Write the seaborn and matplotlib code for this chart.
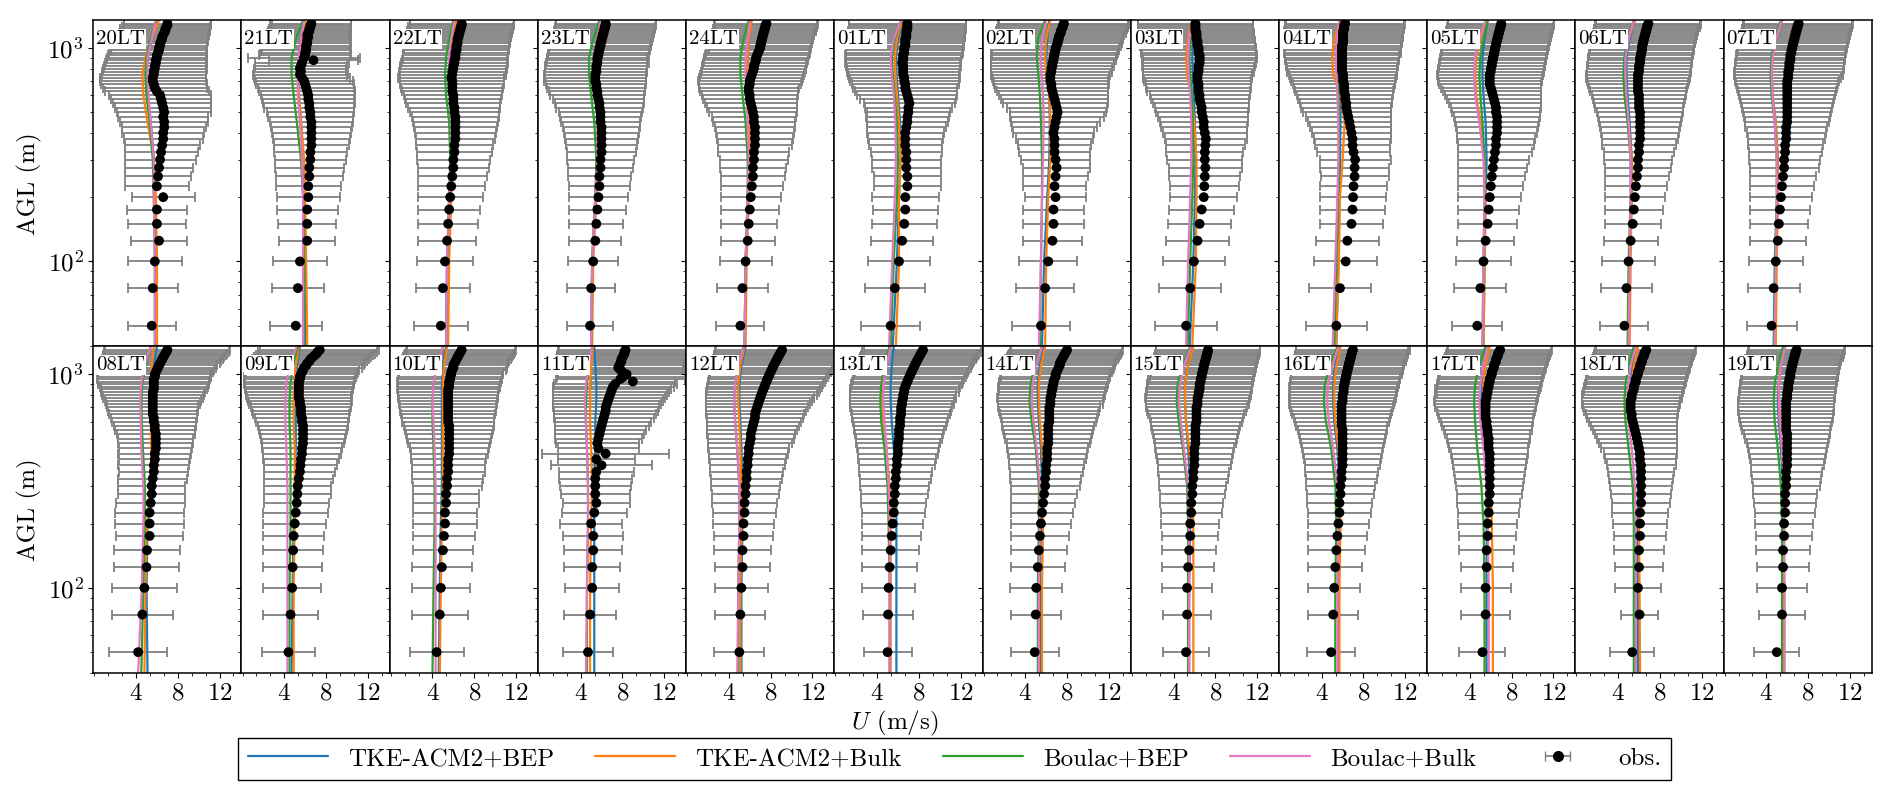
import numpy as np
import pandas as pd
import seaborn as sns
import matplotlib
matplotlib.use('Agg')
from matplotlib import pyplot as plt
from matplotlib.lines import Line2D
from matplotlib.ticker import FixedLocator, MultipleLocator, LogLocator, NullFormatter

"""
数据 (read off the figure)
"""

HOURS = ['20LT', '21LT', '22LT', '23LT', '24LT', '01LT', '02LT', '03LT', '04LT', '05LT', '06LT', '07LT',
         '08LT', '09LT', '10LT', '11LT', '12LT', '13LT', '14LT', '15LT', '16LT', '17LT', '18LT', '19LT']
SCHEMES = ['TKE-ACM2+BEP', 'TKE-ACM2+Bulk', 'Boulac+BEP', 'Boulac+Bulk']
COLORS = ['#1f77b4', '#ff7f0e', '#2ca02c', '#e377c2']

# lidar levels (m)
Z_OBS = [50, 75, 100, 125, 150, 175, 200, 225, 250, 275, 300, 325, 350, 375, 400, 425, 450,
         475, 500, 525, 550, 575, 600, 625, 650, 675, 700, 725, 750, 775, 800, 825, 850, 875,
         900, 925, 950, 975, 1000, 1025, 1050, 1075, 1100, 1125, 1150, 1175, 1200, 1225, 1250,
         1275, 1300]
# model levels (m)
Z_MOD = [40, 100, 200, 300, 450, 600, 750, 900, 1100, 1350]

# ---- observed mean wind speed / std (m/s)
u_20 = [5.5, 5.6, 5.8,
        6.2, 6.0, 6.0, 6.6, 6.0, 6.1, 6.2, 6.3, 6.4, 6.5, 6.6, 6.6, 6.7, 6.7, 6.6, 6.7,
        6.6, 6.5, 6.4, 6.3, 6.0, 5.8, 5.7, 5.6, 5.6, 5.7, 5.7, 5.8, 5.8, 5.9, 5.9, 6.0,
        6.0, 6.1, 6.2, 6.2, 6.3, 6.3, 6.4, 6.5, 6.5, 6.6, 6.7, 6.8, 6.8, 6.9, 7.0, 7.0]
sd_20 = [2.3, 2.4, 2.6,
         2.7, 2.8, 2.9, 3.0, 3.1, 3.2, 3.3, 3.4, 3.5, 3.6, 3.8, 3.9, 4.0, 4.2, 4.3, 4.5,
         4.6, 4.7, 4.8, 4.9, 5.0, 5.0, 5.1, 5.1, 5.1, 5.0, 5.0, 5.0, 4.9, 4.9, 4.8, 4.8,
         4.7, 4.7, 4.6, 4.6, 4.5, 4.5, 4.5, 4.4, 4.4, 4.4, 4.3, 4.3, 4.3, 4.2, 4.2, 4.2]
u_21 = [5.1, 5.3, 5.5,
        6.2, 6.2, 6.2, 6.3, 6.3, 6.4, 6.4, 6.5, 6.5, 6.6, 6.6, 6.6, 6.6, 6.6, 6.5, 6.5,
        6.4, 6.4, 6.3, 6.3, 6.2, 6.1, 6.0, 5.9, 5.7, 5.5, 5.6, 5.5, 5.6, 5.7, 6.8, 5.9,
        6.0, 6.0, 6.1, 6.1, 6.1, 6.2, 6.2, 6.2, 6.3, 6.2, 6.3, 6.4, 6.4, 6.5, 6.5, 6.6]
sd_21 = [2.5, 2.5, 2.6,
         2.7, 2.8, 2.9, 3.0, 3.1, 3.2, 3.3, 3.4, 3.5, 3.6, 3.7, 3.8, 3.9, 4.0, 4.1, 4.2,
         4.3, 4.4, 4.4, 4.5, 4.6, 4.6, 4.7, 4.7, 4.6, 4.5, 4.5, 4.4, 4.4, 4.5, 4.3, 5.4,
         4.4, 4.3, 4.3, 4.2, 4.2, 4.2, 4.1, 4.1, 4.1, 4.0, 4.0, 4.0, 3.9, 3.9, 3.9, 3.8]
u_22 = [4.8, 5.0, 5.2,
        5.4, 5.5, 5.6, 5.7, 5.8, 5.9, 6.0, 6.0, 6.1, 6.1, 6.2, 6.2, 6.2, 6.2, 6.2, 6.1,
        6.1, 6.0, 6.0, 6.0, 5.9, 5.9, 5.9, 5.9, 5.8, 5.9, 5.9, 6.0, 6.0, 6.1, 6.1, 6.2,
        6.2, 6.2, 6.3, 6.3, 6.3, 6.4, 6.4, 6.4, 6.5, 6.5, 6.6, 6.6, 6.7, 6.7, 6.8, 6.8]
sd_22 = [2.6, 2.6, 2.7,
         2.8, 2.9, 3.0, 3.1, 3.2, 3.3, 3.4, 3.5, 3.6, 3.7, 3.8, 3.9, 4.0, 4.1, 4.2, 4.3,
         4.4, 4.5, 4.6, 4.7, 4.8, 4.9, 5.0, 5.0, 5.1, 5.1, 5.1, 5.1, 5.1, 5.1, 5.0, 5.0,
         5.0, 5.0, 5.0, 5.0, 5.0, 5.0, 5.0, 5.0, 5.0, 5.0, 5.0, 5.0, 5.0, 5.0, 5.0, 5.0]
u_23 = [4.9, 5.0, 5.2,
        5.4, 5.5, 5.6, 5.7, 5.8, 5.8, 5.9, 5.9, 6.0, 6.0, 6.0, 6.0, 6.0, 5.9, 5.9, 5.9,
        5.8, 5.8, 5.7, 5.6, 5.6, 5.5, 5.5, 5.4, 5.4, 5.4, 5.5, 5.5, 5.5, 5.6, 5.6, 5.6,
        5.7, 5.7, 5.8, 5.8, 5.9, 5.9, 6.0, 6.0, 6.1, 6.1, 6.2, 6.2, 6.3, 6.3, 6.4, 6.4]
sd_23 = [2.2, 2.3, 2.4,
         2.5, 2.6, 2.7, 2.8, 2.9, 3.0, 3.1, 3.2, 3.3, 3.4, 3.5, 3.6, 3.7, 3.8, 3.9, 4.0,
         4.2, 4.3, 4.4, 4.5, 4.6, 4.7, 4.8, 4.9, 4.9, 4.9, 4.9, 4.9, 4.9, 4.9, 4.8, 4.8,
         4.8, 4.8, 4.8, 4.8, 4.8, 4.8, 4.8, 4.8, 4.8, 4.8, 4.8, 4.8, 4.8, 4.8, 4.8, 4.8]
u_24 = [5.1, 5.3, 5.6,
        5.8, 5.9, 6.0, 6.1, 6.2, 6.3, 6.3, 6.4, 6.4, 6.5, 6.5, 6.5, 6.5, 6.4, 6.4, 6.3,
        6.2, 6.1, 6.0, 6.0, 5.9, 5.9, 6.0, 6.0, 6.1, 6.2, 6.3, 6.4, 6.4, 6.5, 6.6, 6.6,
        6.7, 6.8, 6.9, 7.0, 7.0, 7.1, 7.1, 7.2, 7.2, 7.3, 7.3, 7.4, 7.4, 7.5, 7.5, 7.6]
sd_24 = [2.3, 2.4, 2.5,
         2.6, 2.7, 2.8, 2.9, 3.0, 3.1, 3.2, 3.3, 3.4, 3.5, 3.6, 3.7, 3.8, 3.9, 4.0, 4.2,
         4.3, 4.4, 4.5, 4.6, 4.7, 4.8, 4.9, 5.0, 5.0, 5.0, 5.0, 5.0, 5.0, 5.0, 5.0, 5.0,
         5.0, 5.0, 4.9, 4.9, 4.9, 4.9, 4.9, 4.9, 4.9, 4.9, 4.9, 4.9, 4.9, 4.9, 4.9, 4.9]
u_01 = [5.3, 5.7, 6.1,
        6.4, 6.6, 6.7, 6.7, 6.9, 6.9, 6.8, 6.8, 6.8, 6.7, 6.7, 6.7, 6.8, 6.9, 6.9, 7.0,
        7.0, 7.1, 7.0, 6.9, 6.8, 6.7, 6.7, 6.6, 6.6, 6.5, 6.5, 6.5, 6.5, 6.4, 6.5, 6.5,
        6.5, 6.6, 6.6, 6.6, 6.7, 6.7, 6.7, 6.7, 6.8, 6.8, 6.8, 6.8, 6.9, 6.9, 6.9, 6.9]
sd_01 = [2.8, 2.9, 3.0,
         3.0, 3.1, 3.1, 3.2, 3.2, 3.2, 3.3, 3.3, 3.4, 3.5, 3.6, 3.7, 3.8, 3.9, 4.0, 4.0,
         4.2, 4.4, 4.6, 4.8, 4.9, 5.0, 5.1, 5.2, 5.3, 5.3, 5.4, 5.4, 5.5, 5.5, 5.5, 5.5,
         5.6, 5.6, 5.6, 5.6, 5.6, 5.6, 5.6, 5.6, 5.6, 5.6, 5.6, 5.6, 5.6, 5.6, 5.6, 5.6]
u_02 = [5.5, 5.9, 6.2,
        6.6, 6.7, 6.7, 6.9, 6.8, 6.9, 7.0, 6.9, 6.8, 6.8, 6.8, 6.7, 6.8, 6.9, 7.0, 7.1,
        7.0, 6.9, 6.8, 6.7, 6.6, 6.5, 6.5, 6.4, 6.4, 6.4, 6.5, 6.5, 6.6, 6.6, 6.7, 6.7,
        6.8, 6.8, 6.9, 6.9, 7.0, 7.1, 7.1, 7.2, 7.2, 7.3, 7.4, 7.4, 7.5, 7.6, 7.6, 7.7]
sd_02 = [2.75, 2.75, 2.8,
         2.85, 2.9, 2.9, 2.95, 3.0, 3.1, 3.2, 3.3, 3.4, 3.5, 3.7, 3.9, 4.1, 4.3, 4.5, 4.6,
         4.8, 5.0, 5.1, 5.2, 5.3, 5.4, 5.5, 5.5, 5.6, 5.7, 5.8, 5.8, 5.9, 5.9, 6.0, 6.0,
         6.0, 6.1, 6.1, 6.1, 6.2, 6.2, 6.2, 6.2, 6.2, 6.2, 6.2, 6.2, 6.2, 6.2, 6.2, 6.2]
u_03 = [5.2, 5.6, 5.95,
        6.3, 6.5, 6.7, 6.9, 6.95, 7.0, 7.05, 7.0, 7.0, 7.05, 7.1, 7.0, 6.9, 6.9, 6.8, 6.7,
        6.7, 6.6, 6.5, 6.5, 6.4, 6.4, 6.4, 6.3, 6.3, 6.3, 6.4, 6.4, 6.4, 6.5, 6.5, 6.5,
        6.5, 6.4, 6.4, 6.4, 6.3, 6.3, 6.3, 6.2, 6.2, 6.2, 6.2, 6.1, 6.1, 6.1, 6.1, 6.1]
sd_03 = [2.95, 2.95, 2.95,
         3.0, 3.05, 3.1, 3.2, 3.3, 3.4, 3.5, 3.6, 3.7, 3.8, 3.9, 4.0, 4.1, 4.2, 4.3, 4.4,
         4.5, 4.6, 4.7, 4.8, 4.9, 5.0, 5.0, 5.1, 5.2, 5.2, 5.3, 5.3, 5.4, 5.4, 5.4, 5.5,
         5.5, 5.5, 5.5, 5.5, 5.5, 5.5, 5.5, 5.5, 5.5, 5.5, 5.5, 5.5, 5.5, 5.5, 5.5, 5.5]
u_04 = [5.4, 5.75, 6.3,
        6.45, 6.85, 6.95, 7.0, 7.05, 7.15, 7.15, 7.2, 7.05, 6.95, 6.95, 6.85, 6.75, 6.65, 6.55, 6.45,
        6.35, 6.35, 6.25, 6.25, 6.15, 6.15, 6.15, 6.05, 6.05, 6.05, 5.95, 5.95, 5.95, 5.95, 5.95, 5.95,
        5.95, 5.95, 5.95, 5.95, 5.95, 6.05, 6.05, 6.05, 6.05, 6.05, 6.05, 6.05, 6.15, 6.15, 6.15, 6.25]
sd_04 = [2.95, 2.95, 3.0,
         3.0, 3.05, 3.1, 3.15, 3.2, 3.25, 3.3, 3.4, 3.5, 3.6, 3.7, 3.8, 3.9, 4.0, 4.1, 4.2,
         4.3, 4.4, 4.5, 4.6, 4.7, 4.8, 4.9, 5.0, 5.1, 5.2, 5.3, 5.3, 5.4, 5.4, 5.5, 5.5,
         5.5, 5.6, 5.6, 5.6, 5.6, 5.6, 5.6, 5.6, 5.7, 5.7, 5.7, 5.7, 5.7, 5.7, 5.7, 5.7]
u_05 = [4.7, 5.0, 5.3,
        5.5, 5.7, 5.8, 5.9, 6.0, 6.1, 6.2, 6.3, 6.4, 6.5, 6.5, 6.6, 6.6, 6.6, 6.6, 6.5,
        6.5, 6.4, 6.3, 6.2, 6.1, 6.0, 5.9, 5.9, 5.9, 5.9, 6.0, 6.0, 6.1, 6.1, 6.2, 6.2,
        6.3, 6.3, 6.4, 6.4, 6.5, 6.5, 6.6, 6.6, 6.7, 6.7, 6.8, 6.8, 6.9, 6.9, 7.0, 7.0]
sd_05 = [2.4, 2.5, 2.6,
         2.7, 2.8, 2.9, 3.0, 3.1, 3.2, 3.3, 3.4, 3.5, 3.6, 3.7, 3.8, 3.9, 4.0, 4.1, 4.2,
         4.3, 4.4, 4.5, 4.6, 4.7, 4.8, 4.9, 5.0, 5.0, 5.1, 5.1, 5.1, 5.1, 5.1, 5.1, 5.1,
         5.1, 5.1, 5.1, 5.1, 5.1, 5.1, 5.1, 5.1, 5.1, 5.1, 5.1, 5.1, 5.1, 5.1, 5.1, 5.1]
u_06 = [4.6, 4.8, 5.0,
        5.2, 5.4, 5.5, 5.6, 5.7, 5.8, 5.9, 5.9, 6.0, 6.0, 6.1, 6.1, 6.1, 6.1, 6.1, 6.1,
        6.0, 6.0, 6.0, 6.0, 5.9, 5.9, 5.9, 5.9, 5.9, 5.9, 6.0, 6.0, 6.0, 6.1, 6.1, 6.1,
        6.2, 6.2, 6.3, 6.3, 6.3, 6.4, 6.4, 6.5, 6.5, 6.6, 6.6, 6.7, 6.7, 6.8, 6.8, 6.9]
sd_06 = [2.3, 2.4, 2.5,
         2.6, 2.7, 2.8, 2.9, 3.0, 3.1, 3.2, 3.3, 3.4, 3.5, 3.6, 3.7, 3.8, 3.9, 4.0, 4.1,
         4.2, 4.3, 4.4, 4.5, 4.6, 4.7, 4.8, 4.9, 5.0, 5.0, 5.0, 5.0, 5.0, 5.0, 5.0, 5.0,
         5.0, 5.0, 5.0, 5.0, 5.0, 5.0, 5.0, 5.0, 5.0, 5.0, 5.0, 5.0, 5.0, 5.0, 5.0, 5.0]
u_07 = [4.5, 4.7, 4.9,
        5.1, 5.2, 5.3, 5.4, 5.5, 5.6, 5.7, 5.7, 5.8, 5.8, 5.9, 5.9, 5.9, 6.0, 6.0, 6.0,
        6.0, 6.0, 6.0, 6.0, 6.0, 6.0, 6.0, 6.0, 6.1, 6.1, 6.1, 6.2, 6.2, 6.2, 6.3, 6.3,
        6.3, 6.4, 6.4, 6.5, 6.5, 6.6, 6.6, 6.7, 6.7, 6.8, 6.8, 6.9, 6.9, 7.0, 7.0, 7.1]
sd_07 = [2.4, 2.5, 2.6,
         2.7, 2.8, 2.9, 3.0, 3.1, 3.2, 3.3, 3.4, 3.5, 3.6, 3.7, 3.8, 3.9, 4.0, 4.1, 4.2,
         4.3, 4.4, 4.5, 4.6, 4.7, 4.8, 4.9, 5.0, 5.1, 5.2, 5.2, 5.2, 5.2, 5.2, 5.2, 5.2,
         5.2, 5.2, 5.2, 5.2, 5.2, 5.2, 5.2, 5.2, 5.2, 5.2, 5.2, 5.2, 5.2, 5.2, 5.2, 5.2]
u_08 = [4.2, 4.6, 4.8,
        5.0, 5.05, 5.3, 5.3, 5.3, 5.4, 5.5, 5.5, 5.6, 5.7, 5.7, 5.8, 5.8, 5.9, 5.9, 5.9,
        5.9, 5.8, 5.8, 5.7, 5.7, 5.6, 5.6, 5.6, 5.6, 5.6, 5.6, 5.6, 5.6, 5.7, 5.7, 5.7,
        5.7, 5.7, 5.8, 5.8, 5.9, 6.0, 6.1, 6.2, 6.3, 6.4, 6.5, 6.6, 6.7, 6.8, 6.9, 7.0]
sd_08 = [2.75, 2.9, 3.1,
         3.1, 3.2, 3.2, 3.3, 3.3, 3.3, 3.2, 3.2, 3.3, 3.3, 3.4, 3.4, 3.5, 3.5, 3.6, 3.6,
         3.7, 3.8, 3.9, 4.0, 4.1, 4.2, 4.3, 4.35, 4.5, 4.6, 4.8, 4.9, 5.0, 5.1, 5.2, 5.3,
         5.3, 5.4, 5.4, 5.4, 5.5, 5.5, 5.6, 5.6, 5.7, 5.7, 5.8, 5.8, 5.9, 5.9, 6.0, 6.0]
u_09 = [4.4, 4.6, 4.75,
        4.8, 4.85, 4.9, 5.0, 5.1, 5.2, 5.25, 5.3, 5.4, 5.5, 5.55, 5.6, 5.7, 5.7, 5.8, 5.8,
        5.8, 5.8, 5.8, 5.7, 5.7, 5.6, 5.6, 5.6, 5.5, 5.5, 5.4, 5.4, 5.4, 5.4, 5.4, 5.4,
        5.4, 5.5, 5.5, 5.6, 5.7, 5.8, 5.9, 6.1, 6.2, 6.4, 6.5, 6.7, 6.9, 7.1, 7.2, 7.4]
sd_09 = [2.5, 2.6, 2.75,
         2.8, 2.9, 2.9, 3.0, 3.1, 3.1, 3.2, 3.2, 3.3, 3.4, 3.5, 3.6, 3.7, 3.8, 3.9, 4.0,
         4.1, 4.2, 4.3, 4.4, 4.5, 4.6, 4.7, 4.8, 4.9, 5.0, 5.0, 5.1, 5.1, 5.2, 5.2, 5.3,
         5.3, 5.3, 5.4, 5.4, 5.4, 5.4, 5.5, 5.5, 5.5, 5.5, 5.6, 5.6, 5.6, 5.6, 5.7, 5.7]
u_10 = [4.4, 4.7, 4.8,
        4.9, 5.0, 5.1, 5.2, 5.2, 5.3, 5.3, 5.4, 5.4, 5.5, 5.5, 5.5, 5.6, 5.6, 5.6, 5.6,
        5.6, 5.6, 5.6, 5.5, 5.5, 5.5, 5.5, 5.5, 5.5, 5.5, 5.5, 5.5, 5.5, 5.5, 5.6, 5.6,
        5.6, 5.7, 5.7, 5.8, 5.8, 5.9, 6.0, 6.0, 6.1, 6.2, 6.3, 6.4, 6.5, 6.6, 6.7, 6.8]
sd_10 = [2.6, 2.7, 2.8,
         2.9, 2.9, 3.0, 3.1, 3.1, 3.2, 3.2, 3.3, 3.4, 3.5, 3.5, 3.6, 3.7, 3.8, 3.9, 4.0,
         4.1, 4.2, 4.3, 4.4, 4.4, 4.5, 4.6, 4.6, 4.7, 4.7, 4.8, 4.8, 4.8, 4.9, 4.9, 4.9,
         5.0, 5.0, 5.0, 5.0, 5.0, 5.1, 5.1, 5.1, 5.1, 5.1, 5.2, 5.2, 5.2, 5.2, 5.2, 5.2]
u_11 = [4.7, 4.9, 5.1,
        5.1, 5.2, 5.2, 5.0, 5.3, 5.5, 5.4, 5.4, 5.4, 5.5, 6.0, 5.5, 6.4, 5.7, 5.6, 5.7,
        5.8, 5.9, 6.0, 6.1, 6.2, 6.3, 6.4, 6.4, 6.5, 6.6, 6.7, 6.8, 6.9, 7.0, 7.1, 7.3,
        9.0, 7.8, 8.1, 8.4, 8.0, 7.8, 7.6, 7.7, 7.8, 7.9, 7.9, 8.0, 8.1, 8.2, 8.2, 8.3]
sd_11 = [2.4, 2.5, 2.6,
         2.7, 2.8, 2.9, 3.0, 3.1, 3.2, 3.3, 3.4, 3.5, 3.6, 4.8, 3.7, 6.1, 3.9, 4.0, 4.2,
         4.3, 4.4, 4.5, 4.6, 4.8, 4.9, 5.0, 5.1, 5.2, 5.3, 5.4, 5.5, 5.6, 5.7, 5.8, 5.9,
         4.0, 6.2, 6.4, 6.6, 6.4, 6.3, 6.2, 6.2, 6.2, 6.3, 6.3, 6.3, 6.4, 6.4, 6.4, 6.4]
u_12 = [5.0, 5.1, 5.2,
        5.3, 5.3, 5.4, 5.4, 5.5, 5.5, 5.6, 5.6, 5.7, 5.7, 5.8, 5.8, 5.9, 5.9, 6.0, 6.1,
        6.1, 6.2, 6.3, 6.4, 6.5, 6.5, 6.6, 6.7, 6.8, 6.9, 7.0, 7.1, 7.2, 7.3, 7.4, 7.5,
        7.6, 7.7, 7.8, 7.9, 8.0, 8.1, 8.2, 8.3, 8.4, 8.5, 8.6, 8.7, 8.8, 8.9, 9.0, 9.1]
sd_12 = [2.4, 2.4, 2.5,
         2.6, 2.7, 2.8, 2.9, 3.0, 3.1, 3.2, 3.3, 3.4, 3.5, 3.6, 3.7, 3.8, 3.9, 4.0, 4.1,
         4.2, 4.3, 4.4, 4.5, 4.6, 4.7, 4.8, 4.9, 5.0, 5.1, 5.2, 5.3, 5.4, 5.4, 5.5, 5.5,
         5.6, 5.6, 5.7, 5.7, 5.8, 5.8, 5.9, 5.9, 6.0, 6.0, 6.1, 6.1, 6.2, 6.2, 6.3, 6.3]
u_13 = [5.0, 5.05, 5.1,
        5.2, 5.3, 5.4, 5.5, 5.6, 5.6, 5.7, 5.7, 5.8, 5.8, 5.9, 5.9, 6.0, 6.0, 6.0, 6.1,
        6.1, 6.1, 6.2, 6.2, 6.2, 6.3, 6.3, 6.3, 6.4, 6.4, 6.5, 6.5, 6.6, 6.6, 6.7, 6.8,
        6.9, 7.0, 7.1, 7.2, 7.3, 7.4, 7.5, 7.6, 7.7, 7.8, 7.9, 8.0, 8.1, 8.2, 8.3, 8.4]
sd_13 = [2.3, 2.4, 2.5,
         2.6, 2.7, 2.8, 2.9, 3.0, 3.1, 3.2, 3.3, 3.4, 3.5, 3.6, 3.7, 3.8, 3.9, 4.0, 4.1,
         4.2, 4.3, 4.4, 4.5, 4.6, 4.7, 4.8, 4.9, 5.0, 5.0, 5.1, 5.1, 5.2, 5.2, 5.2, 5.3,
         5.3, 5.3, 5.4, 5.4, 5.4, 5.4, 5.5, 5.5, 5.5, 5.5, 5.6, 5.6, 5.6, 5.6, 5.7, 5.7]
u_14 = [4.9, 5.0, 5.05,
        5.2, 5.3, 5.4, 5.5, 5.6, 5.7, 5.8, 5.9, 5.9, 6.0, 6.0, 6.1, 6.1, 6.1, 6.2, 6.2,
        6.2, 6.2, 6.2, 6.3, 6.3, 6.3, 6.3, 6.3, 6.4, 6.4, 6.4, 6.5, 6.5, 6.6, 6.6, 6.7,
        6.7, 6.8, 6.9, 6.9, 7.0, 7.1, 7.2, 7.3, 7.3, 7.4, 7.5, 7.6, 7.7, 7.8, 7.9, 8.0]
sd_14 = [2.3, 2.4, 2.5,
         2.6, 2.7, 2.8, 2.9, 3.0, 3.1, 3.2, 3.3, 3.4, 3.5, 3.6, 3.7, 3.8, 3.9, 4.0, 4.1,
         4.2, 4.3, 4.4, 4.5, 4.6, 4.7, 4.8, 4.9, 5.0, 5.0, 5.1, 5.1, 5.1, 5.1, 5.2, 5.2,
         5.2, 5.2, 5.2, 5.2, 5.3, 5.3, 5.3, 5.3, 5.3, 5.3, 5.4, 5.4, 5.4, 5.4, 5.4, 5.4]
u_15 = [5.2, 5.3, 5.3,
        5.4, 5.5, 5.6, 5.6, 5.7, 5.7, 5.8, 5.8, 5.9, 5.9, 6.0, 6.0, 6.0, 6.0, 6.1, 6.1,
        6.1, 6.1, 6.1, 6.2, 6.2, 6.2, 6.2, 6.2, 6.3, 6.3, 6.3, 6.4, 6.4, 6.5, 6.5, 6.5,
        6.6, 6.6, 6.7, 6.7, 6.8, 6.8, 6.9, 6.9, 7.0, 7.0, 7.1, 7.1, 7.2, 7.2, 7.3, 7.3]
sd_15 = [2.2, 2.3, 2.4,
         2.5, 2.6, 2.7, 2.8, 2.9, 3.0, 3.1, 3.2, 3.3, 3.4, 3.5, 3.6, 3.7, 3.8, 3.9, 4.0,
         4.1, 4.2, 4.3, 4.4, 4.5, 4.6, 4.7, 4.8, 4.9, 4.9, 5.0, 5.0, 5.0, 5.0, 5.0, 5.0,
         5.0, 5.0, 5.0, 5.0, 5.0, 5.0, 5.0, 5.0, 5.0, 5.0, 5.0, 5.0, 5.0, 5.0, 5.0, 5.0]
u_16 = [4.9, 5.1, 5.2,
        5.3, 5.4, 5.5, 5.6, 5.7, 5.7, 5.8, 5.8, 5.9, 5.9, 6.0, 6.0, 6.0, 6.0, 6.0, 6.0,
        6.0, 6.0, 5.9, 5.9, 5.9, 5.9, 5.9, 5.9, 5.9, 6.0, 6.0, 6.0, 6.1, 6.1, 6.1, 6.2,
        6.2, 6.3, 6.3, 6.4, 6.4, 6.5, 6.5, 6.6, 6.6, 6.7, 6.7, 6.8, 6.8, 6.9, 6.9, 7.0]
sd_16 = [2.3, 2.4, 2.5,
         2.6, 2.7, 2.8, 2.9, 3.0, 3.1, 3.2, 3.3, 3.4, 3.5, 3.6, 3.7, 3.8, 3.9, 4.0, 4.1,
         4.2, 4.3, 4.4, 4.5, 4.6, 4.7, 4.8, 4.9, 5.0, 5.0, 5.1, 5.1, 5.1, 5.1, 5.2, 5.2,
         5.2, 5.2, 5.2, 5.3, 5.3, 5.3, 5.3, 5.3, 5.3, 5.4, 5.4, 5.4, 5.4, 5.4, 5.4, 5.5]
u_17 = [5.2, 5.5, 5.5,
        5.6, 5.6, 5.7, 5.7, 5.8, 5.8, 5.9, 5.9, 5.9, 5.9, 5.9, 5.9, 5.9, 5.8, 5.8, 5.8,
        5.7, 5.7, 5.6, 5.6, 5.5, 5.5, 5.5, 5.5, 5.5, 5.5, 5.6, 5.6, 5.7, 5.7, 5.8, 5.8,
        5.9, 5.9, 6.0, 6.1, 6.1, 6.2, 6.3, 6.3, 6.4, 6.5, 6.5, 6.6, 6.7, 6.7, 6.8, 6.9]
sd_17 = [2.2, 2.35, 2.4,
         2.5, 2.6, 2.7, 2.8, 2.9, 3.0, 3.1, 3.2, 3.3, 3.4, 3.5, 3.6, 3.7, 3.8, 3.9, 4.0,
         4.1, 4.2, 4.3, 4.4, 4.5, 4.6, 4.7, 4.8, 4.8, 4.9, 4.9, 4.9, 4.9, 5.0, 5.0, 5.0,
         5.0, 5.0, 5.0, 5.0, 5.0, 5.0, 5.0, 5.0, 5.0, 5.0, 5.0, 5.0, 5.0, 5.0, 5.0, 5.0]
u_18 = [5.35, 6.05, 5.9,
        6.0, 6.0, 6.1, 6.1, 6.1, 6.2, 6.2, 6.2, 6.2, 6.2, 6.2, 6.1, 6.1, 6.0, 5.9, 5.8,
        5.7, 5.6, 5.5, 5.4, 5.3, 5.3, 5.2, 5.2, 5.2, 5.2, 5.3, 5.3, 5.4, 5.5, 5.5, 5.6,
        5.7, 5.7, 5.8, 5.9, 5.9, 6.0, 6.1, 6.1, 6.2, 6.3, 6.3, 6.4, 6.5, 6.5, 6.6, 6.7]
sd_18 = [2.1, 1.75, 2.2,
         2.3, 2.4, 2.5, 2.6, 2.7, 2.8, 2.9, 3.0, 3.1, 3.2, 3.3, 3.4, 3.5, 3.6, 3.7, 3.8,
         3.9, 4.0, 4.1, 4.2, 4.3, 4.4, 4.5, 4.6, 4.7, 4.7, 4.8, 4.8, 4.8, 4.8, 4.8, 4.8,
         4.8, 4.8, 4.8, 4.8, 4.8, 4.8, 4.8, 4.8, 4.8, 4.8, 4.8, 4.8, 4.8, 4.8, 4.8, 4.8]
u_19 = [5.0, 5.5, 5.5,
        5.6, 5.6, 5.7, 5.7, 5.8, 5.8, 5.8, 5.9, 5.9, 5.9, 6.0, 6.0, 6.0, 6.0, 6.0, 6.0,
        6.0, 5.9, 5.9, 5.9, 5.9, 5.9, 5.9, 5.9, 5.9, 5.9, 6.0, 6.0, 6.0, 6.1, 6.1, 6.1,
        6.2, 6.2, 6.3, 6.3, 6.3, 6.4, 6.4, 6.5, 6.5, 6.6, 6.6, 6.7, 6.7, 6.8, 6.8, 6.9]
sd_19 = [2.15, 2.25, 2.4,
         2.5, 2.6, 2.7, 2.8, 2.9, 3.0, 3.1, 3.2, 3.3, 3.4, 3.5, 3.6, 3.7, 3.8, 3.9, 4.0,
         4.1, 4.2, 4.3, 4.4, 4.5, 4.5, 4.6, 4.6, 4.6, 4.6, 4.6, 4.6, 4.6, 4.6, 4.6, 4.6,
         4.6, 4.6, 4.6, 4.6, 4.6, 4.6, 4.6, 4.6, 4.6, 4.6, 4.6, 4.6, 4.6, 4.6, 4.6, 4.6]

# ---- simulated wind speed at Z_MOD (m/s)
# tb: TKE-ACM2+BEP, tk: TKE-ACM2+Bulk, bb: Boulac+BEP, bk: Boulac+Bulk
tb_20 = [5.9, 5.9, 5.8, 5.7, 5.4, 5.1, 5.0, 5.1, 5.5, 6.0]
tk_20 = [6.0, 6.0, 5.9, 5.7, 5.1, 4.7, 4.6, 4.9, 5.5, 6.2]
bb_20 = [5.8, 5.8, 5.7, 5.6, 5.3, 5.0, 4.9, 5.0, 5.4, 5.9]
bk_20 = [5.8, 5.8, 5.7, 5.7, 5.4, 5.2, 5.1, 5.1, 5.5, 5.9]
tb_21 = [6.0, 6.0, 5.9, 5.8, 5.6, 5.4, 5.3, 5.4, 5.6, 5.9]
tk_21 = [6.2, 6.1, 6.0, 5.9, 5.6, 5.4, 5.3, 5.4, 5.7, 6.0]
bb_21 = [5.9, 5.9, 5.8, 5.6, 5.2, 4.9, 4.7, 4.7, 5.1, 5.8]
bk_21 = [5.8, 5.8, 5.8, 5.7, 5.5, 5.3, 5.3, 5.4, 5.6, 5.9]
tb_22 = [5.3, 5.4, 5.6, 5.8, 5.9, 5.8, 5.7, 5.7, 5.9, 6.2]
tk_22 = [5.5, 5.6, 5.8, 5.9, 6.0, 5.9, 5.8, 5.8, 6.0, 6.3]
bb_22 = [5.3, 5.4, 5.6, 5.7, 5.6, 5.3, 5.2, 5.3, 5.6, 6.0]
bk_22 = [5.3, 5.4, 5.6, 5.8, 5.8, 5.7, 5.6, 5.6, 5.8, 6.1]
tb_23 = [5.0, 5.1, 5.4, 5.6, 5.7, 5.6, 5.5, 5.5, 5.6, 5.9]
tk_23 = [5.1, 5.2, 5.5, 5.7, 5.7, 5.6, 5.5, 5.5, 5.7, 6.0]
bb_23 = [5.0, 5.1, 5.4, 5.5, 5.3, 5.0, 4.8, 4.8, 5.2, 5.8]
bk_23 = [5.0, 5.1, 5.4, 5.6, 5.6, 5.5, 5.4, 5.4, 5.6, 5.9]
tb_24 = [5.5, 5.6, 5.8, 5.9, 6.0, 5.9, 5.8, 5.8, 5.9, 6.1]
tk_24 = [5.6, 5.7, 5.9, 6.0, 6.0, 5.9, 5.8, 5.8, 5.9, 6.2]
bb_24 = [5.5, 5.6, 5.8, 5.8, 5.6, 5.3, 5.1, 5.1, 5.4, 5.9]
bk_24 = [5.5, 5.6, 5.8, 5.9, 5.8, 5.7, 5.6, 5.6, 5.8, 6.0]
tb_01 = [5.5, 5.9, 6.1, 6.25, 6.2, 6.0, 5.85, 5.8, 6.0, 6.4]
tk_01 = [5.8, 6.1, 6.1, 6.25, 6.1, 5.9, 5.75, 5.7, 5.9, 6.4]
bb_01 = [5.3, 5.6, 5.9, 6.0, 5.9, 5.7, 5.5, 5.4, 5.7, 6.3]
bk_01 = [5.15, 5.45, 5.7, 5.8, 5.75, 5.6, 5.4, 5.3, 5.6, 6.3]
tb_02 = [5.6, 5.8, 6.1, 6.3, 6.35, 6.3, 6.2, 6.0, 6.1, 6.3]
tk_02 = [5.9, 6.0, 6.2, 6.4, 6.4, 6.3, 6.0, 5.9, 6.0, 6.4]
bb_02 = [5.4, 5.5, 5.6, 5.6, 5.5, 5.4, 5.25, 5.1, 5.2, 5.9]
bk_02 = [5.3, 5.5, 5.6, 5.7, 5.75, 5.7, 5.55, 5.45, 5.6, 6.0]
tb_03 = [5.55, 5.9, 6.05, 6.1, 6.05, 5.95, 5.85, 5.8, 5.85, 6.1]
tk_03 = [5.8, 6.15, 6.2, 6.2, 6.0, 5.7, 5.3, 5.2, 5.4, 5.8]
bb_03 = [5.35, 5.6, 5.8, 5.9, 5.85, 5.75, 5.6, 5.5, 5.6, 5.9]
bk_03 = [5.2, 5.4, 5.6, 5.7, 5.7, 5.6, 5.45, 5.4, 5.5, 5.9]
tb_04 = [5.4, 5.6, 5.7, 5.75, 5.8, 5.8, 5.8, 5.75, 5.8, 6.0]
tk_04 = [5.35, 5.65, 5.75, 6.0, 6.2, 5.8, 5.1, 5.0, 5.2, 5.8]
bb_04 = [5.2, 5.4, 5.55, 5.65, 5.65, 5.6, 5.5, 5.4, 5.5, 5.8]
bk_04 = [5.05, 5.3, 5.5, 5.6, 5.6, 5.5, 5.4, 5.35, 5.45, 5.7]
tb_05 = [5.3, 5.4, 5.5, 5.6, 5.5, 5.3, 5.2, 5.2, 5.4, 5.7]
tk_05 = [5.3, 5.4, 5.5, 5.4, 5.0, 4.6, 4.5, 4.6, 5.0, 5.6]
bb_05 = [5.2, 5.3, 5.4, 5.4, 5.2, 5.0, 4.9, 5.0, 5.3, 5.7]
bk_05 = [5.2, 5.3, 5.4, 5.3, 4.9, 4.5, 4.4, 4.5, 4.9, 5.5]
tb_06 = [5.0, 5.1, 5.3, 5.3, 5.1, 4.9, 4.8, 4.8, 5.1, 5.6]
tk_06 = [5.1, 5.2, 5.3, 5.3, 5.0, 4.7, 4.6, 4.7, 5.0, 5.6]
bb_06 = [4.9, 5.0, 5.2, 5.2, 4.9, 4.6, 4.5, 4.6, 4.9, 5.5]
bk_06 = [5.0, 5.1, 5.2, 5.2, 5.0, 4.8, 4.7, 4.7, 5.0, 5.5]
tb_07 = [4.8, 4.9, 5.1, 5.1, 4.9, 4.6, 4.5, 4.5, 4.9, 5.5]
tk_07 = [4.9, 5.0, 5.1, 5.1, 4.9, 4.6, 4.5, 4.6, 4.9, 5.5]
bb_07 = [4.7, 4.8, 5.0, 5.0, 4.8, 4.5, 4.4, 4.5, 4.8, 5.4]
bk_07 = [4.8, 4.9, 5.0, 5.0, 4.8, 4.6, 4.5, 4.6, 4.9, 5.5]
tb_08 = [5.1, 5.0, 5.1, 5.5, 5.6, 5.6, 5.6, 5.6, 5.7, 6.0]
tk_08 = [4.8, 4.9, 5.05, 5.4, 5.45, 5.4, 5.3, 5.4, 5.5, 5.7]
bb_08 = [4.5, 4.7, 4.85, 4.85, 4.65, 4.55, 4.5, 4.6, 4.9, 5.4]
bk_08 = [4.2, 4.55, 4.7, 4.7, 4.5, 4.45, 4.4, 4.5, 4.8, 5.4]
tb_09 = [4.7, 4.8, 4.9, 5.0, 5.1, 5.1, 5.1, 5.1, 5.2, 5.5]
tk_09 = [4.9, 4.9, 5.0, 5.0, 5.0, 4.9, 4.9, 5.0, 5.1, 5.4]
bb_09 = [4.5, 4.5, 4.6, 4.6, 4.6, 4.5, 4.5, 4.6, 4.8, 5.3]
bk_09 = [4.3, 4.3, 4.3, 4.3, 4.2, 4.1, 4.1, 4.2, 4.5, 5.2]
tb_10 = [4.6, 4.7, 4.8, 4.9, 4.9, 4.9, 4.9, 4.9, 5.0, 5.3]
tk_10 = [4.7, 4.8, 4.9, 5.0, 5.0, 5.0, 5.0, 5.0, 5.1, 5.4]
bb_10 = [4.0, 4.1, 4.2, 4.2, 4.1, 4.0, 4.0, 4.1, 4.4, 5.0]
bk_10 = [4.3, 4.3, 4.3, 4.3, 4.2, 4.1, 4.0, 4.1, 4.4, 5.0]
tb_11 = [5.3, 5.3, 5.3, 5.3, 5.4, 5.4, 5.5, 5.5, 5.4, 5.3]
tk_11 = [4.9, 4.9, 5.0, 5.1, 5.0, 4.9, 4.9, 4.9, 5.0, 5.2]
bb_11 = [4.6, 4.6, 4.7, 4.7, 4.6, 4.5, 4.5, 4.6, 4.8, 5.1]
bk_11 = [4.5, 4.6, 4.7, 4.7, 4.6, 4.5, 4.4, 4.5, 4.8, 5.1]
tb_12 = [5.2, 5.2, 5.3, 5.3, 5.2, 5.1, 5.0, 5.0, 5.2, 5.6]
tk_12 = [5.1, 5.1, 5.2, 5.2, 5.1, 5.0, 4.9, 4.9, 5.1, 5.5]
bb_12 = [4.9, 4.9, 5.0, 5.0, 4.8, 4.6, 4.5, 4.6, 4.9, 5.4]
bk_12 = [4.8, 4.9, 5.0, 5.0, 4.8, 4.6, 4.5, 4.6, 4.9, 5.4]
tb_13 = [5.85, 5.85, 5.85, 5.8, 5.6, 5.4, 5.3, 5.3, 5.4, 5.6]
tk_13 = [5.3, 5.3, 5.3, 5.2, 4.9, 4.6, 4.5, 4.5, 4.8, 5.3]
bb_13 = [5.2, 5.2, 5.1, 5.0, 4.7, 4.4, 4.3, 4.4, 4.7, 5.2]
bk_13 = [5.2, 5.2, 5.2, 5.1, 4.9, 4.7, 4.6, 4.6, 4.9, 5.3]
tb_14 = [5.4, 5.4, 5.5, 5.6, 5.5, 5.3, 5.2, 5.2, 5.4, 5.8]
tk_14 = [5.6, 5.6, 5.7, 5.8, 5.6, 5.4, 5.3, 5.3, 5.5, 5.9]
bb_14 = [5.2, 5.2, 5.3, 5.3, 5.0, 4.6, 4.4, 4.5, 4.9, 5.6]
bk_14 = [5.3, 5.3, 5.4, 5.4, 5.1, 4.8, 4.6, 4.7, 5.0, 5.6]
tb_15 = [5.5, 5.5, 5.6, 5.6, 5.4, 5.2, 5.1, 5.1, 5.4, 5.8]
tk_15 = [5.9, 5.9, 5.9, 5.8, 5.5, 5.2, 5.1, 5.1, 5.4, 5.9]
bb_15 = [5.4, 5.4, 5.4, 5.3, 4.9, 4.5, 4.3, 4.4, 4.9, 5.6]
bk_15 = [5.5, 5.5, 5.5, 5.4, 5.0, 4.7, 4.5, 4.6, 5.0, 5.7]
tb_16 = [5.6, 5.6, 5.7, 5.7, 5.5, 5.2, 5.1, 5.1, 5.3, 5.7]
tk_16 = [5.7, 5.7, 5.8, 5.8, 5.6, 5.3, 5.2, 5.2, 5.4, 5.8]
bb_16 = [5.3, 5.3, 5.4, 5.3, 4.9, 4.4, 4.2, 4.3, 4.8, 5.5]
bk_16 = [5.5, 5.5, 5.6, 5.5, 5.1, 4.7, 4.5, 4.6, 5.0, 5.6]
tb_17 = [5.6, 5.6, 5.6, 5.6, 5.4, 5.2, 5.1, 5.1, 5.3, 5.7]
tk_17 = [6.2, 6.2, 6.1, 6.0, 5.7, 5.4, 5.3, 5.3, 5.5, 5.9]
bb_17 = [5.4, 5.4, 5.3, 5.1, 4.7, 4.5, 4.4, 4.5, 4.9, 5.5]
bk_17 = [5.8, 5.8, 5.7, 5.6, 5.3, 5.0, 4.9, 5.0, 5.3, 5.7]
tb_18 = [5.9, 5.9, 5.9, 5.9, 5.7, 5.4, 5.2, 5.2, 5.4, 5.8]
tk_18 = [6.1, 6.05, 6.0, 6.0, 5.8, 5.5, 5.3, 5.3, 5.5, 5.9]
bb_18 = [5.5, 5.5, 5.5, 5.4, 5.0, 4.7, 4.6, 4.7, 5.0, 5.5]
bk_18 = [5.7, 5.7, 5.7, 5.6, 5.3, 5.0, 4.9, 5.0, 5.2, 5.7]
tb_19 = [5.6, 5.6, 5.6, 5.6, 5.4, 5.2, 5.1, 5.2, 5.4, 5.8]
tk_19 = [5.7, 5.7, 5.7, 5.7, 5.5, 5.3, 5.2, 5.2, 5.4, 5.8]
bb_19 = [5.5, 5.5, 5.5, 5.4, 5.1, 4.8, 4.7, 4.8, 5.1, 5.6]
bk_19 = [5.75, 5.75, 5.7, 5.7, 5.5, 5.3, 5.2, 5.2, 5.4, 5.8]

obs_u = [u_20, u_21, u_22, u_23, u_24, u_01, u_02, u_03, u_04, u_05, u_06, u_07,
         u_08, u_09, u_10, u_11, u_12, u_13, u_14, u_15, u_16, u_17, u_18, u_19]
obs_sd = [sd_20, sd_21, sd_22, sd_23, sd_24, sd_01, sd_02, sd_03, sd_04, sd_05, sd_06, sd_07,
          sd_08, sd_09, sd_10, sd_11, sd_12, sd_13, sd_14, sd_15, sd_16, sd_17, sd_18, sd_19]
mod_tb = [tb_20, tb_21, tb_22, tb_23, tb_24, tb_01, tb_02, tb_03, tb_04, tb_05, tb_06, tb_07,
          tb_08, tb_09, tb_10, tb_11, tb_12, tb_13, tb_14, tb_15, tb_16, tb_17, tb_18, tb_19]
mod_tk = [tk_20, tk_21, tk_22, tk_23, tk_24, tk_01, tk_02, tk_03, tk_04, tk_05, tk_06, tk_07,
          tk_08, tk_09, tk_10, tk_11, tk_12, tk_13, tk_14, tk_15, tk_16, tk_17, tk_18, tk_19]
mod_bb = [bb_20, bb_21, bb_22, bb_23, bb_24, bb_01, bb_02, bb_03, bb_04, bb_05, bb_06, bb_07,
          bb_08, bb_09, bb_10, bb_11, bb_12, bb_13, bb_14, bb_15, bb_16, bb_17, bb_18, bb_19]
mod_bk = [bk_20, bk_21, bk_22, bk_23, bk_24, bk_01, bk_02, bk_03, bk_04, bk_05, bk_06, bk_07,
          bk_08, bk_09, bk_10, bk_11, bk_12, bk_13, bk_14, bk_15, bk_16, bk_17, bk_18, bk_19]

for name, arr in zip(HOURS, obs_u):
    assert len(arr) == len(Z_OBS), ('u', name, len(arr))
for name, arr in zip(HOURS, obs_sd):
    assert len(arr) == len(Z_OBS), ('sd', name, len(arr))

"""         画图          """

sns.set_style('ticks')
plt.rcParams['font.family'] = 'serif'
plt.rcParams['font.serif'] = ['cmr10']
plt.rcParams['mathtext.fontset'] = 'cm'
plt.rcParams['axes.formatter.use_mathtext'] = True
plt.rcParams['axes.unicode_minus'] = False
for k in ['axes.edgecolor', 'xtick.color', 'ytick.color', 'text.color', 'axes.labelcolor']:
    plt.rcParams[k] = 'black'
plt.rcParams['axes.linewidth'] = 1.1

fig, axes = plt.subplots(2, 12, figsize=(18.92, 8.01), dpi=100, sharex=True, sharey=True)
fig.subplots_adjust(left=0.0493, right=0.9893, top=0.975, bottom=0.16, wspace=0, hspace=0)

for i, hr in enumerate(HOURS):
    ax = axes.flat[i]
    ax.set_yscale('log')

    # obs std bars
    ax.errorbar(obs_u[i], Z_OBS, xerr=obs_sd[i], fmt='none', ecolor='gray',
                elinewidth=1.3, capsize=3.5, capthick=1.3, zorder=1)

    # model profiles
    df = pd.DataFrame({'z': Z_MOD * 4,
                       'u': mod_tb[i] + mod_tk[i] + mod_bb[i] + mod_bk[i],
                       'scheme': sum([[s] * len(Z_MOD) for s in SCHEMES], [])})
    sns.lineplot(data=df, x='u', y='z', hue='scheme', hue_order=SCHEMES, palette=COLORS,
                 orient='y', estimator=None, lw=1.6, legend=False, ax=ax, zorder=2)

    # obs mean
    sns.scatterplot(x=obs_u[i], y=Z_OBS, color='black', s=50, edgecolor='none',
                    legend=False, ax=ax, zorder=3)

    ax.text(0.02, 0.97, hr, transform=ax.transAxes, ha='left', va='top', fontsize=15,
            bbox=dict(facecolor='white', edgecolor='none', pad=0.6), zorder=5)
    ax.set_xlabel('')
    ax.set_ylabel('')
    ax.tick_params(labelsize=18)

ax0 = axes[0, 0]
ax0.set_xlim(-0.1, 14.1)
ax0.set_ylim(40, 1350)
ax0.xaxis.set_major_locator(FixedLocator([4, 8, 12]))
ax0.xaxis.set_minor_locator(MultipleLocator(4 / 3))
ax0.yaxis.set_major_locator(LogLocator(base=10))
ax0.yaxis.set_minor_locator(LogLocator(base=10, subs=np.arange(2, 10)))
ax0.yaxis.set_minor_formatter(NullFormatter())

for r in range(2):
    axes[r, 0].set_ylabel('AGL (m)', fontsize=18)

fig.text(0.473, 0.097, r'$U$ (m/s)', ha='center', va='center', fontsize=18)

# legend
handles = [Line2D([], [], color=c, lw=1.6) for c in COLORS]
obs_h = ax0.errorbar([np.nan], [np.nan], xerr=[1.0], fmt='o', color='black', ms=7,
                     ecolor='gray', elinewidth=1.3, capsize=3.5)
fig.legend(handles + [obs_h], SCHEMES + ['obs.'], loc='center',
           bbox_to_anchor=(0.1258, 0.025, 0.7574, 0.055), mode='expand', ncol=5,
           fontsize=18, handlelength=3.2, fancybox=False, edgecolor='black',
           framealpha=1, borderaxespad=0)

plt.savefig('out.png', dpi=100)
